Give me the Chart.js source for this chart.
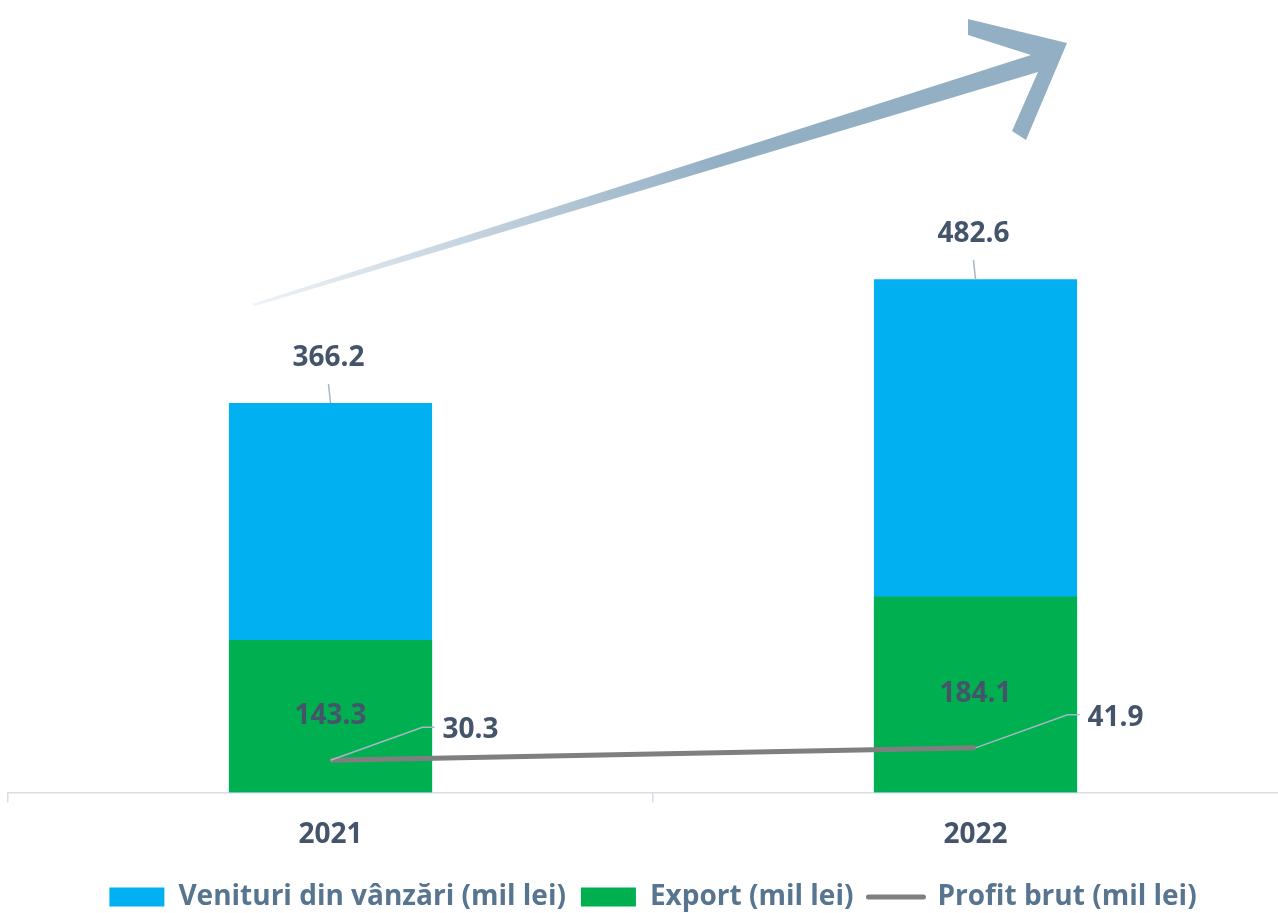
<!DOCTYPE html>
<html>
<head>
<meta charset="utf-8">
<script src="https://cdn.jsdelivr.net/npm/chart.js@4/dist/chart.umd.min.js"></script>
<style>
  html, body { margin: 0; padding: 0; background: #fff; overflow: hidden; }
  #wrap { position: relative; width: 1306px; height: 913px; }
</style>
</head>
<body>
<div id="wrap"><canvas id="grafic"></canvas></div>
<script>
// date
const ani = ['2021', '2022'];
const venituri = [366.2, 482.6];
const exportVal = [143.3, 184.1];
const profit = [30.3, 41.9];

const denumiri = ['Venituri din vânzări (mil lei)', 'Export (mil lei)', 'Profit brut (mil lei)'];

const culoareText = '#44546a';
const culoareLegenda = '#587590';
const culoareLinieEticheta = '#a9b6c4';
const fontBold = { family: '"Open Sans", Lato, sans-serif', size: 28, weight: 'bold' };

// sageata decorativa din fundal
const sageata = {
  id: 'sageata',
  beforeDatasetsDraw(chart) {
    const c = chart.ctx;
    c.save();
    const g = c.createLinearGradient(252, 304, 720, 160);
    g.addColorStop(0, 'rgba(147,175,196,0.15)');
    g.addColorStop(1, 'rgba(147,175,196,1)');
    c.fillStyle = g;
    c.beginPath();
    c.moveTo(252, 304);
    c.lineTo(1031, 55);
    c.lineTo(968, 35);
    c.lineTo(968, 19);
    c.lineTo(1067, 43);
    c.lineTo(1026, 140);
    c.lineTo(1012, 131);
    c.lineTo(1038, 72);
    c.lineTo(255, 306);
    c.closePath();
    c.fill();
    c.restore();
  }
};

// etichete de date cu linii de legatura
const etichete = {
  id: 'etichete',
  afterDatasetsDraw(chart) {
    const c = chart.ctx;
    c.save();
    c.font = 'bold 28px "Open Sans", Lato, sans-serif';
    c.fillStyle = culoareText;
    c.strokeStyle = culoareLinieEticheta;
    c.lineWidth = 1.5;

    // venituri - deasupra barei
    chart.getDatasetMeta(0).data.forEach((el, i) => {
      c.beginPath();
      c.moveTo(el.x - 2, el.y - 19);
      c.lineTo(el.x, el.y);
      c.stroke();
      c.textAlign = 'center';
      c.textBaseline = 'middle';
      c.fillText(venituri[i].toFixed(1), el.x - 2, el.y - 45);
    });

    // export - in centrul barei
    chart.getDatasetMeta(1).data.forEach((el, i) => {
      c.textAlign = 'center';
      c.textBaseline = 'middle';
      c.fillText(exportVal[i].toFixed(1), el.x, (el.y + el.base) / 2);
    });

    // profit - dreapta sus
    chart.getDatasetMeta(2).data.forEach((el, i) => {
      c.beginPath();
      c.moveTo(el.x, el.y);
      c.lineTo(el.x + 92, el.y - 33);
      c.lineTo(el.x + 104, el.y - 33);
      c.stroke();
      c.textAlign = 'left';
      c.textBaseline = 'middle';
      c.fillText(profit[i].toFixed(1), el.x + 112, el.y - 30);
    });
    c.restore();
  }
};

const ctx = document.getElementById('grafic');

new Chart(ctx, {
  type: 'bar',
  data: {
    labels: ani,
    datasets: [
      {
        label: denumiri[0],
        data: venituri,
        backgroundColor: '#00b0f0',
        grouped: false,
        order: 3
      },
      {
        label: denumiri[1],
        data: exportVal,
        backgroundColor: '#00b050',
        grouped: false,
        order: 2
      },
      {
        type: 'line',
        label: denumiri[2],
        data: profit,
        borderColor: '#7f7f7f',
        backgroundColor: '#7f7f7f',
        borderWidth: 5,
        pointRadius: 0,
        order: 1
      }
    ]
  },
  options: {
    responsive: true,
    maintainAspectRatio: false,
    animation: false,
    layout: {
      padding: { top: 48, left: 8, right: 8, bottom: -8 }
    },
    datasets: {
      bar: { barPercentage: 0.315, categoryPercentage: 1 }
    },
    scales: {
      x: {
        offset: true,
        grid: {
          offset: true,
          drawOnChartArea: false,
          color: '#d9dde3',
          lineWidth: 1.5,
          tickLength: 10
        },
        border: { color: '#d9dde3', width: 1.5 },
        ticks: {
          color: culoareText,
          font: fontBold,
          padding: 16
        }
      },
      y: {
        display: false,
        beginAtZero: true,
        max: 700
      }
    },
    plugins: {
      tooltip: { enabled: false },
      legend: {
        position: 'bottom',
        labels: {
          color: culoareLegenda,
          font: fontBold,
          usePointStyle: true,
          pointStyleWidth: 55,
          boxHeight: 19,
          padding: 15,
          generateLabels(chart) {
            const items = Chart.defaults.plugins.legend.labels.generateLabels(chart);
            items.sort((a, b) => a.datasetIndex - b.datasetIndex);
            items.forEach((it) => {
              if (it.datasetIndex < 2) {
                it.pointStyle = 'rect';
                it.lineWidth = 0;
              } else {
                it.pointStyle = 'line';
                it.lineCap = 'round';
                it.lineWidth = 5;
                it.strokeStyle = '#7f7f7f';
              }
            });
            return items;
          }
        }
      }
    }
  },
  plugins: [sageata, etichete]
});
</script>
</body>
</html>
